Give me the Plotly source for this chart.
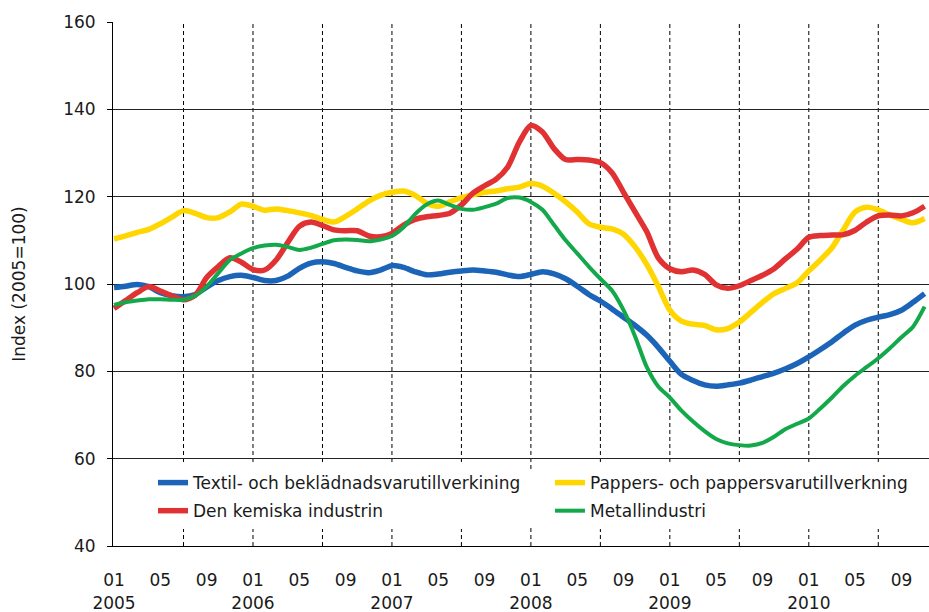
import plotly.graph_objects as go

# Month index 0 = January 2005 ... 70 = November 2010
months = list(range(71))

textil = [99.2, 99.5, 99.9, 99.4, 98.0, 97.3, 97.1, 97.6, 99.3, 100.8, 101.7, 102.0,
          101.5, 100.8, 100.8, 101.8, 103.6, 104.8, 105.1, 104.7, 103.8, 103.0, 102.6, 103.2,
          104.2, 103.8, 102.8, 102.1, 102.3, 102.7, 103.0, 103.2, 103.0, 102.7, 102.1, 101.7,
          102.2, 102.8, 102.3, 101.2, 99.5, 97.6, 96.1, 94.3, 92.4, 90.5, 88.3, 85.5,
          82.3, 79.3, 77.9, 76.9, 76.6, 76.9, 77.3, 78.0, 78.8, 79.6, 80.6, 81.8,
          83.3, 85.0, 86.8, 88.8, 90.6, 91.7, 92.4, 93.0, 94.0, 95.8, 97.8]

pappers = [110.3, 111.0, 111.8, 112.5, 113.8, 115.3, 116.8, 116.2, 115.2, 115.2, 116.5, 118.3,
           117.8, 116.9, 117.2, 116.8, 116.3, 115.7, 114.8, 114.2, 115.5, 117.2, 119.0, 120.3,
           121.0, 121.3, 120.3, 118.5, 117.8, 118.8, 119.8, 120.4, 121.0, 121.3, 121.8, 122.2,
           123.0, 122.4, 120.8, 118.8, 116.5, 113.8, 113.0, 112.6, 111.4, 108.5, 104.5, 99.5,
           94.0, 91.5, 90.8, 90.5, 89.5, 89.8, 91.3, 93.5, 95.8, 97.8, 99.0, 100.3,
           103.0, 105.5, 108.3, 112.5, 116.5, 117.6, 117.0, 115.8, 114.8, 114.0, 115.0]

kemiska = [94.4, 96.2, 98.0, 99.4, 98.4, 97.3, 96.4, 97.4, 101.5, 104.0, 106.0, 105.0,
           103.3, 103.2, 105.5, 109.5, 113.2, 114.2, 113.4, 112.4, 112.2, 112.2, 111.0, 110.8,
           111.6, 113.5, 114.8, 115.4, 115.7, 116.2, 118.1, 120.8, 122.5, 124.0, 126.8, 132.5,
           136.3, 134.8, 131.0, 128.5, 128.5, 128.4, 127.8, 125.5, 121.0, 116.5, 112.0, 106.0,
           103.5, 102.8, 103.2, 102.2, 99.8, 99.0, 99.6, 100.8, 102.0, 103.5, 105.8, 108.0,
           110.7, 111.1, 111.2, 111.3, 112.3, 114.2, 115.6, 115.8, 115.6, 116.3, 117.8]

metall = [95.2, 95.8, 96.2, 96.5, 96.5, 96.4, 96.4, 97.3, 99.4, 102.5, 105.5, 107.0,
          108.2, 108.8, 109.0, 108.5, 107.8, 108.3, 109.2, 110.0, 110.2, 110.1, 109.8, 110.2,
          111.0, 113.0, 116.0, 118.2, 119.1, 118.1, 117.2, 117.0, 117.6, 118.4, 119.7, 119.8,
          118.8, 117.0, 113.5, 110.0, 107.0, 104.0, 101.2, 98.5, 94.0, 88.0, 81.0, 76.5,
          74.0, 71.0, 68.5, 66.3, 64.5, 63.5, 63.1, 63.0, 63.6, 65.0, 66.8, 68.0,
          69.2, 71.5, 74.0, 76.7, 79.0, 81.0, 83.0, 85.3, 87.8, 90.2, 94.8]

series_names = ["Textil- och beklädnadsvarutillverkining",
                "Pappers- och pappersvarutillverkning",
                "Den kemiska industrin",
                "Metallindustri"]

tick_positions = list(range(0, 71, 4))
tick_labels = []
for i in tick_positions:
    m = i % 12 + 1
    y = 2005 + i // 12
    tick_labels.append(f"{m:02d}<br>{y}" if m == 1 else f"{m:02d}")
half_year_lines = list(range(6, 71, 6))

FONT = "DejaVu Sans"
TXT = "#1a1a1a"
XR = [-0.09, 70.38]

fig = go.Figure()
specs = [
    (textil, series_names[0], "#1c64b8", 5.5, "legend"),
    (pappers, series_names[1], "#ffd600", 5.5, "legend2"),
    (kemiska, series_names[2], "#e03232", 5.5, "legend"),
    (metall, series_names[3], "#13a84a", 4, "legend2"),
]
for vals, name, col, w, lg in specs:
    fig.add_trace(go.Scatter(
        x=months, y=vals, name=name, mode="lines",
        line=dict(color=col, width=w, shape="spline", smoothing=0.8),
        legend=lg, legendgroup=name))

shapes = []
for v in half_year_lines:
    shapes.append(dict(type="line", xref="x", yref="paper", x0=v, x1=v, y0=0, y1=1,
                       line=dict(color="black", width=1, dash="4px,3px"), layer="below"))
shapes.append(dict(type="rect", xref="paper", yref="paper", x0=0.03, x1=1.0, y0=0.036, y1=0.145,
                   fillcolor="white", line=dict(width=0), layer="above"))

fig.update_layout(
    width=929, height=612,
    margin=dict(l=113, r=0, t=22, b=66, autoexpand=False),
    paper_bgcolor="white", plot_bgcolor="white",
    font=dict(family=FONT, size=17, color=TXT),
    xaxis=dict(
        range=XR, tickmode="array", tickvals=tick_positions, ticktext=tick_labels,
        showgrid=False, zeroline=False, showline=True, linecolor="black", linewidth=1,
        ticks="", ticklabelstandoff=19, automargin=False,
        tickfont=dict(family=FONT, size=17, color=TXT)),
    yaxis=dict(
        range=[40, 160], tickmode="linear", tick0=40, dtick=20,
        showgrid=True, gridcolor="#222222", gridwidth=1, zeroline=False,
        showline=True, linecolor="black", linewidth=1, automargin=False,
        ticks="outside", ticklen=5, tickcolor="black", ticklabelstandoff=8,
        tickfont=dict(family=FONT, size=17, color=TXT),
        title=dict(text="Index (2005=100)", standoff=33, font=dict(family=FONT, size=17, color=TXT))),
    legend=dict(x=0.049, xanchor="left", y=0.1545, yanchor="top", bgcolor="white",
                borderwidth=0, traceorder="grouped", tracegroupgap=3,
                font=dict(family=FONT, size=17, color=TXT)),
    legend2=dict(x=0.5355, xanchor="left", y=0.1545, yanchor="top", bgcolor="white",
                 borderwidth=0, traceorder="grouped", tracegroupgap=3,
                 font=dict(family=FONT, size=17, color=TXT)),
    shapes=shapes,
    showlegend=True,
)

fig.write_html("out.html", config={"displayModeBar": False},
               post_script="document.body.style.margin='0';document.body.style.overflow='hidden';")
